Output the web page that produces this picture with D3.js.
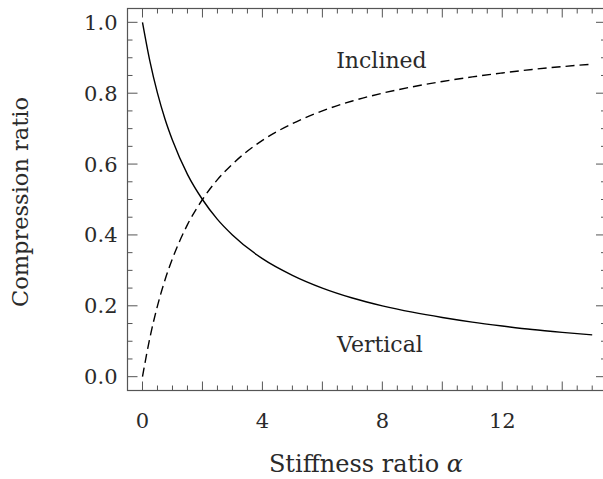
<!DOCTYPE html>
<html>
<head>
<meta charset="utf-8">
<script src="https://cdn.jsdelivr.net/npm/d3@7"></script>
<style>
  body { margin: 0; background: #fff; }
  text { font-family: "DejaVu Serif", "Liberation Serif", serif; fill: #2a2a2a; }
</style>
</head>
<body>
<svg id="chart" width="603" height="479"></svg>
<script>
// values
const alpha = [0, 0.25, 0.5, 0.75, 1, 1.5, 2, 2.5, 3, 4, 5, 6, 7, 8, 9, 10, 11, 12, 13, 14, 15];
const vertical = [1.0, 0.889, 0.8, 0.727, 0.667, 0.571, 0.5, 0.444, 0.4, 0.333, 0.286, 0.25, 0.222, 0.2, 0.182, 0.167, 0.154, 0.143, 0.133, 0.125, 0.118];
const inclined = [0.0, 0.111, 0.2, 0.273, 0.333, 0.429, 0.5, 0.556, 0.6, 0.667, 0.714, 0.75, 0.778, 0.8, 0.818, 0.833, 0.846, 0.857, 0.867, 0.875, 0.882];
const xTicks = [0, 4, 8, 12];
const yTicks = [0.0, 0.2, 0.4, 0.6, 0.8, 1.0];
const labels = [
  { text: "Inclined", a: 7.97, v: 0.87 },
  { text: "Vertical", a: 7.92, v: 0.07 }
];

const svg = d3.select("#chart");
const axisColor = "#555";

// plot box (right spine falls just outside the picture)
const boxLeft = 127.5, boxRight = 606, boxTop = 8.5, boxBottom = 390.5;

const x = d3.scaleLinear().domain([-0.5, 15.46]).range([boxLeft, boxRight]);
const y = d3.scaleLinear().domain([-0.039, 1.039]).range([boxBottom, boxTop]);

const g = svg.append("g");

// ticks: major every 2 on x (labels every 4), minor every 0.5; y major 0.2, minor 0.05
const xMajor = d3.range(0, 16, 2);
const xMinor = d3.range(0, 15.01, 0.5).filter(d => d % 2 !== 0);
const yMajor = yTicks;
const yMinor = d3.range(0, 1.001, 0.05).filter(d => Math.abs(d * 5 - Math.round(d * 5)) > 1e-6);

function tickLines(vals, len, horizontal) {
  vals.forEach(v => {
    if (horizontal) {
      const px = x(v);
      g.append("line").attr("x1", px).attr("x2", px).attr("y1", boxBottom).attr("y2", boxBottom - len)
        .attr("stroke", axisColor).attr("stroke-width", 1);
      g.append("line").attr("x1", px).attr("x2", px).attr("y1", boxTop).attr("y2", boxTop + len)
        .attr("stroke", axisColor).attr("stroke-width", 1);
    } else {
      const py = y(v);
      g.append("line").attr("x1", boxLeft).attr("x2", boxLeft + len).attr("y1", py).attr("y2", py)
        .attr("stroke", axisColor).attr("stroke-width", 1);
      g.append("line").attr("x1", boxRight).attr("x2", boxRight - len).attr("y1", py).attr("y2", py)
        .attr("stroke", axisColor).attr("stroke-width", 1);
    }
  });
}
tickLines(xMajor, 9, true);
tickLines(xMinor, 5, true);
tickLines(yMajor, 10, false);
tickLines(yMinor, 5, false);

// frame
g.append("rect")
  .attr("x", boxLeft).attr("y", boxTop)
  .attr("width", boxRight - boxLeft).attr("height", boxBottom - boxTop)
  .attr("fill", "none").attr("stroke", axisColor).attr("stroke-width", 1.2);

// tick labels
g.selectAll(".xl").data(xTicks).enter().append("text")
  .attr("x", d => x(d)).attr("y", boxBottom + 37)
  .attr("text-anchor", "middle").attr("font-size", 21)
  .text(d => d);

g.selectAll(".yl").data(yTicks).enter().append("text")
  .attr("x", boxLeft - 10).attr("y", d => y(d) + 7.5)
  .attr("text-anchor", "end").attr("font-size", 21)
  .text(d => d.toFixed(1));

// curves
const line = d3.line()
  .x((d, i) => x(alpha[i]))
  .y(d => y(d))
  .curve(d3.curveMonotoneX);

g.append("path").datum(vertical)
  .attr("d", line).attr("fill", "none")
  .attr("stroke", "#000").attr("stroke-width", 1.4);

g.append("path").datum(inclined)
  .attr("d", line).attr("fill", "none")
  .attr("stroke", "#000").attr("stroke-width", 1.4)
  .attr("stroke-dasharray", "9,5");

// curve labels
g.selectAll(".cl").data(labels).enter().append("text")
  .attr("x", d => x(d.a)).attr("y", d => y(d.v))
  .attr("text-anchor", "middle").attr("font-size", 22)
  .text(d => d.text);

// axis titles
const xt = svg.append("text")
  .attr("x", 366).attr("y", 472)
  .attr("text-anchor", "middle").attr("font-size", 24);
xt.append("tspan").text("Stiffness ratio ");
xt.append("tspan").attr("font-style", "italic").text("α");

svg.append("text")
  .attr("transform", "translate(28,202) rotate(-90)")
  .attr("text-anchor", "middle").attr("font-size", 22.5)
  .text("Compression ratio");
</script>
</body>
</html>
